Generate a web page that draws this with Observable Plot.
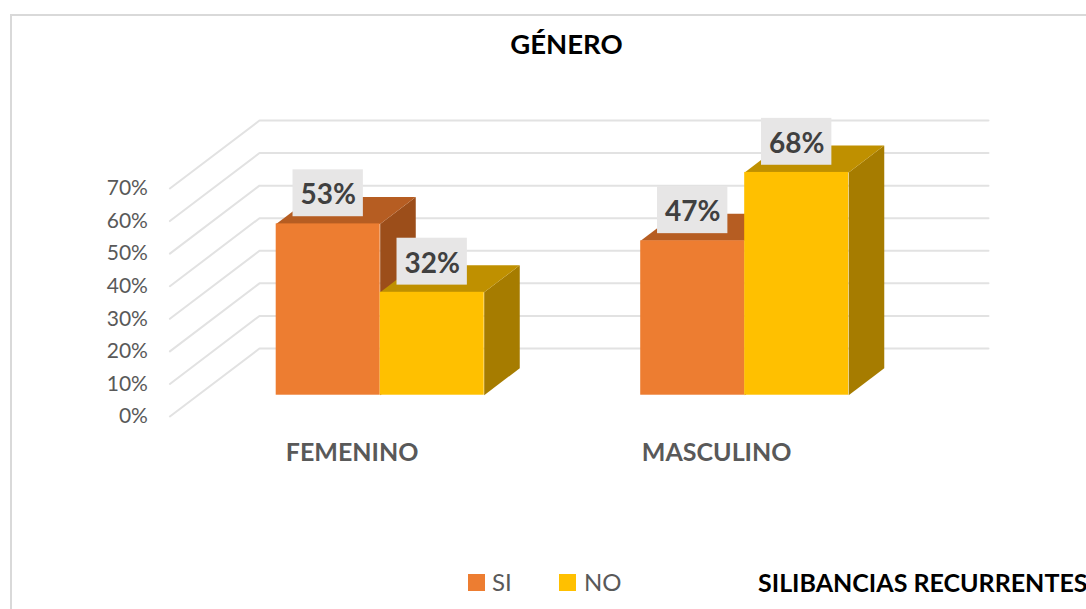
<!DOCTYPE html>
<html lang="es">
<head>
<meta charset="utf-8">
<script src="https://cdn.jsdelivr.net/npm/d3@7"></script>
<script src="https://cdn.jsdelivr.net/npm/@observablehq/plot@0.6"></script>
<style>
  html, body { margin: 0; padding: 0; background: #fff; overflow: hidden; width: 1086px; height: 609px; }
  body { position: relative; font-family: Lato, "Noto Sans", sans-serif; }
  #frame { position: absolute; left: 10px; top: 14px; right: -4px; bottom: -4px; border: 2px solid #d9d9d9; z-index: 2; pointer-events: none; }
  #title { height: 60px; position: relative; }
  #title span { position: absolute; left: 0; width: 1133px; top: 26px; text-align: center; font-size: 27.5px; line-height: 36px; font-weight: 700; color: #000; }
  #chart { height: 450px; }
  #chart svg { display: block; }
  #legend { height: 99px; position: relative; white-space: nowrap; }
  #legend i { position: absolute; width: 17px; height: 17px; top: 64px; }
  #legend span { position: absolute; top: 57px; font-size: 24px; line-height: 30px; color: #595959; }
  #legend b { position: absolute; left: 758px; top: 57px; font-size: 25px; line-height: 30px; font-weight: 700; color: #000; }
</style>
</head>
<body>
<div id="frame"></div>
<div id="title"></div>
<div id="chart"></div>
<div id="legend"></div>
<script>
const titleText = "GÉNERO";
const categories = ["FEMENINO", "MASCULINO"];
const seriesNames = ["SI", "NO"];
const siValues = [52.6, 47.4];
const noValues = [31.6, 68.4];
const yTicks = [0, 10, 20, 30, 40, 50, 60, 70];
const legendTitle = "SILIBANCIAS RECURRENTES";

const seriesColors = ["#ed7d31", "#ffc000"];
const topColors = ["#b65d22", "#bf9000"];
const sideColors = ["#9c4e1a", "#a67c00"];

// Oblique projection: one unit of depth shifts along both axes.
const depthX = 0.2458, depthY = 20.88;
const barWidth = 0.2853, barFront = 0.313, barBack = 0.71;
const wallLeft = -0.5, wallRight = 1.5;
const project = (x, y, d) => ({x: x + d * depthX, y: y + d * depthY});

const grid = yTicks.flatMap((t) => [
  {t, ...project(wallLeft, t, 0)},
  {t, ...project(wallLeft, t, 1)},
  {t, ...project(wallRight, t, 1)}
]);

const barMarks = [];
const labels = [];
[siValues, noValues].forEach((values, s) => {
  values.forEach((v, i) => {
    const x1 = i + (s === 0 ? -barWidth : 0);
    const x2 = x1 + barWidth;
    const y1 = 0, y2 = v;
    const top = [
      project(x1, y2, barFront), project(x2, y2, barFront),
      project(x2, y2, barBack), project(x1, y2, barBack)
    ];
    const side = [
      project(x2, y1, barFront), project(x2, y1, barBack),
      project(x2, y2, barBack), project(x2, y2, barFront)
    ];
    const a = project(x1, y1, barFront), b = project(x2, y2, barFront);
    barMarks.push(
      Plot.line(side, {x: "x", y: "y", curve: "linear-closed", fill: sideColors[s], stroke: "none"}),
      Plot.line(top, {x: "x", y: "y", curve: "linear-closed", fill: topColors[s], stroke: "none"}),
      Plot.rect([{x1: a.x, x2: b.x, y1: a.y, y2: b.y}], {x1: "x1", x2: "x2", y1: "y1", y2: "y2", fill: seriesColors[s]})
    );
    labels.push({x: (a.x + b.x) / 2, y: b.y + 9.4, text: Math.round(v) + "%"});
  });
});

const boxHalfW = 0.0965, boxHalfH = 7.2;

const plot = Plot.plot({
  width: 1086,
  height: 450,
  marginTop: 60,
  marginBottom: 94,
  marginLeft: 169.4,
  marginRight: 98,
  style: {fontFamily: "Lato, 'Noto Sans', sans-serif", background: "transparent"},
  x: {domain: [wallLeft, wallRight + depthX], label: null},
  y: {domain: [0, 70 + depthY], label: null},
  marks: [
    Plot.line(grid, {x: "x", y: "y", z: "t", stroke: "#e2e2e2", strokeWidth: 2}),
    ...barMarks,
    Plot.rect(labels, {
      x1: (d) => d.x - boxHalfW, x2: (d) => d.x + boxHalfW,
      y1: (d) => d.y - boxHalfH, y2: (d) => d.y + boxHalfH,
      fill: "#e7e6e6"
    }),
    Plot.text(labels, {x: "x", y: "y", dy: 2, text: "text", fontSize: 28, fontWeight: 700, fill: "#404040"}),
    Plot.axisY({ticks: yTicks, tickFormat: (d) => d + "%", tickSize: 0, tickPadding: 22, fontSize: 21, color: "#595959", label: null}),
    Plot.axisX({
      ticks: categories.map((_, i) => i), tickFormat: (i) => categories[i],
      tickSize: 0, tickPadding: 27, fontSize: 25, fontWeight: 700, color: "#595959", label: null
    })
  ]
});
document.getElementById("chart").append(plot);

const titleEl = document.createElement("span");
titleEl.textContent = titleText;
document.getElementById("title").append(titleEl);

const legendEl = document.getElementById("legend");
const swatchLeft = [468, 559], textLeft = [492, 584];
seriesNames.forEach((name, s) => {
  const sw = document.createElement("i");
  sw.style.left = swatchLeft[s] + "px";
  sw.style.background = seriesColors[s];
  const tx = document.createElement("span");
  tx.style.left = textLeft[s] + "px";
  tx.textContent = name;
  legendEl.append(sw, tx);
});
const lt = document.createElement("b");
lt.textContent = legendTitle;
legendEl.append(lt);
</script>
</body>
</html>
